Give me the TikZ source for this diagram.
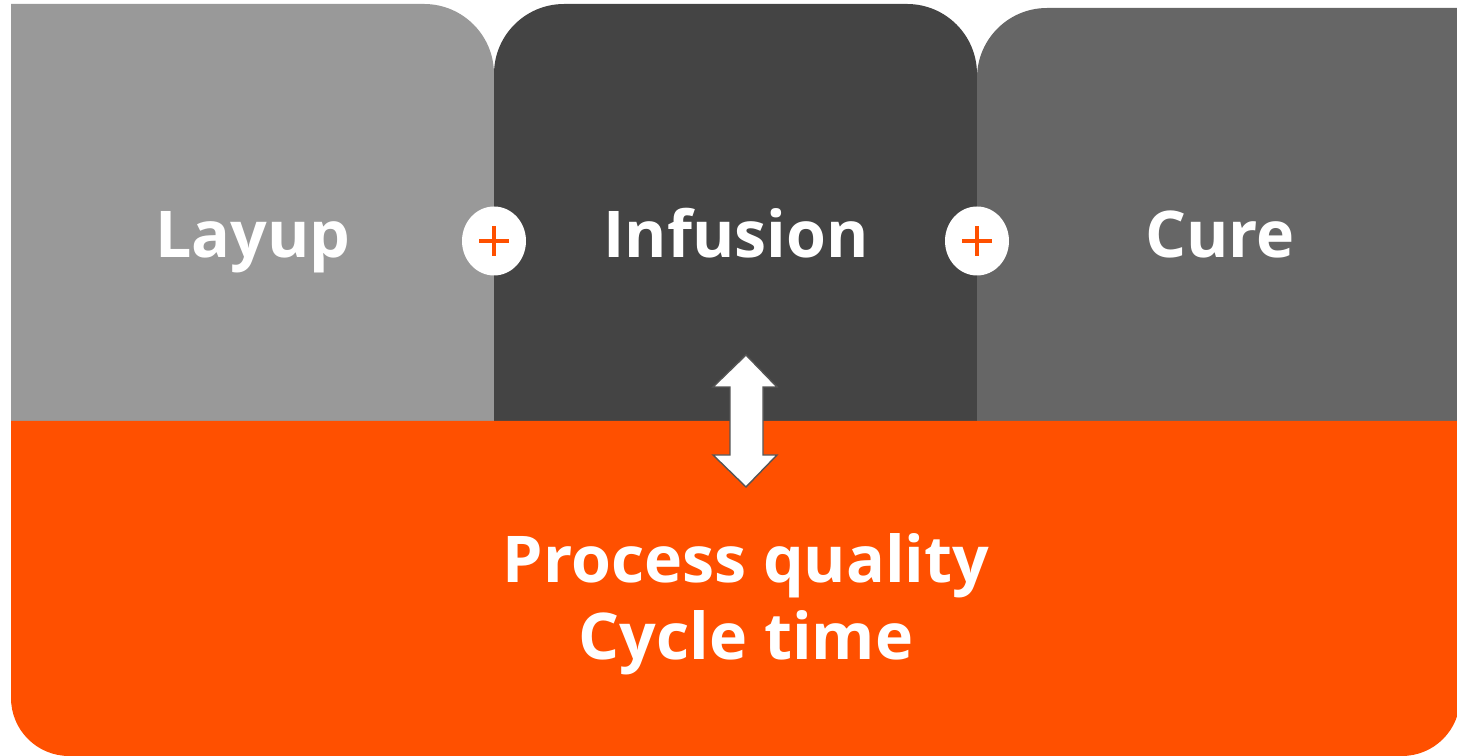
\documentclass[tikz,border=0pt]{standalone}
\usepackage{fontspec}
\setmainfont{Open Sans}
\usetikzlibrary{shapes.geometric}
\definecolor{layupgray}{HTML}{999999}
\definecolor{infusiongray}{HTML}{444444}
\definecolor{curegray}{HTML}{666666}
\definecolor{procorange}{HTML}{FF5000}
\definecolor{arrowedge}{HTML}{555555}
\tikzset{
    steplabel/.style={text=white, font=\bfseries\fontsize{36.7}{44}\selectfont, anchor=base, inner sep=0pt},
    plusdisc/.style={ellipse, fill=white, minimum width=1.28cm, minimum height=1.38cm, inner sep=0pt},
    plusbar/.style={procorange, line width=2.3pt}
}
\begin{document}
\begin{tikzpicture}[x=0.02cm, y=0.02cm]
        \useasboundingbox (0, 0) rectangle (1457, 756);
        % process steps
        \fill[layupgray] (11, 335) -- (11, 752) -- (424, 752) 
        arc[start angle=90, end angle=0, radius=1.4cm] -- (494, 335) -- cycle;
        \fill[infusiongray] (494, 335) -- (494, 682) 
        arc[start angle=180, end angle=90, radius=1.4cm] -- (907, 752) 
        arc[start angle=90, end angle=0, radius=1.4cm] -- (977, 335) -- cycle;
        \fill[curegray] (977, 335) -- (977, 678) 
        arc[start angle=180, end angle=90, radius=1.4cm] -- (1465, 748) 
        -- (1465, 335) -- cycle;
        % outcome band
        \fill[procorange] (11, 335) -- (11, 58) 
        arc[start angle=180, end angle=270, radius=1.16cm] -- (1402, 0) 
        arc[start angle=270, end angle=360, radius=1.16cm] -- (1460, 335) -- cycle;
        % labels
        \node[steplabel] (layup) at (253, 498) {Layup};
        \node[steplabel] (infusion) at (736, 498) {Infusion};
        \node[steplabel] (cure) at (1220, 498) {Cure};
        \node[steplabel] (quality) at (746, 173) {Process quality};
        \node[steplabel] (cycletime) at (746, 96) {Cycle time};
        % plus signs
        \foreach \px/\name in {494/plusA, 977/plusB} {
            \node[plusdisc] (\name) at (\px, 515) {};
            \draw[plusbar] ([xshift=-0.3cm]\name.center) -- ([xshift=0.3cm]\name.center);
            \draw[plusbar] ([yshift=-0.3cm]\name.center) -- ([yshift=0.3cm]\name.center);
        }
        % double arrow
        \filldraw[fill=white, draw=arrowedge, line width=0.8pt] (746, 401) -- (777, 369) 
        -- (763, 369) -- (763, 301) -- (777, 301) -- (746, 269) -- (713, 301) 
        -- (730, 301) -- (730, 369) -- (713, 369) -- cycle;
    \end{tikzpicture}
\end{document}
